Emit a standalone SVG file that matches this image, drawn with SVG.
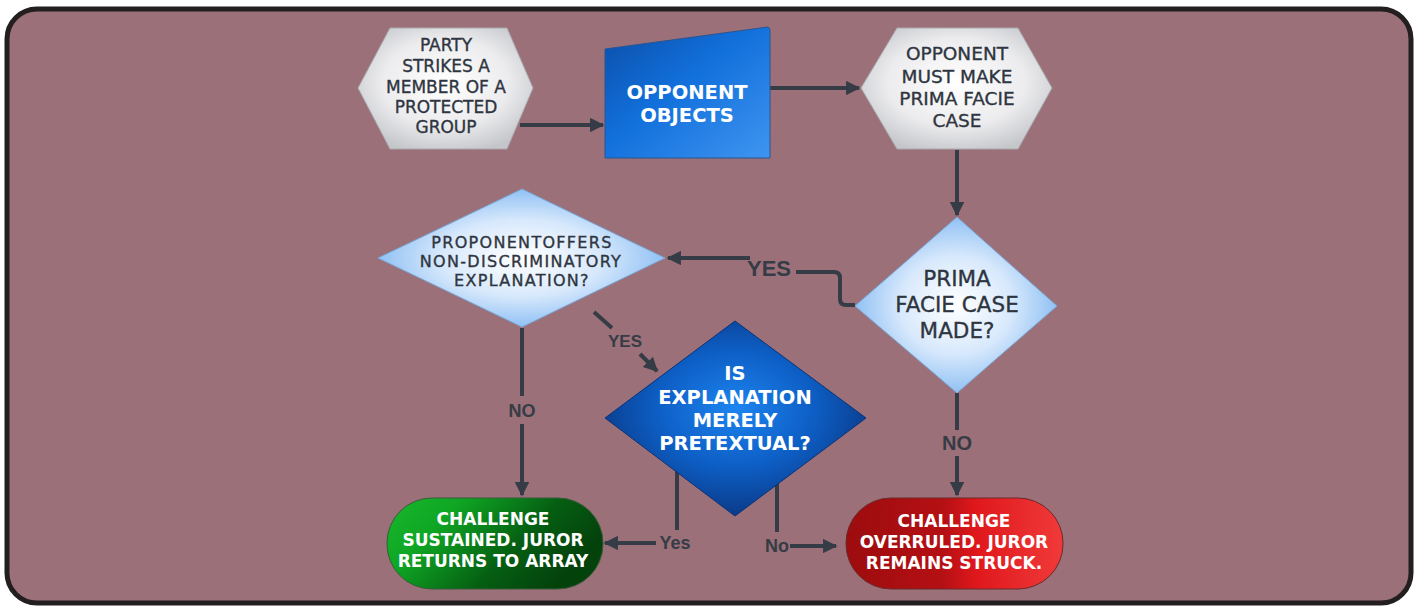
<svg xmlns="http://www.w3.org/2000/svg" width="1418" height="610" viewBox="0 0 1418 610">
<defs>
<radialGradient id="gHex" cx="50%" cy="45%" r="60%">
<stop offset="0" stop-color="#ffffff"/><stop offset="0.6" stop-color="#ececee"/><stop offset="1" stop-color="#c4c6ca"/>
</radialGradient>
<linearGradient id="gObj" x1="0" y1="0" x2="1" y2="1">
<stop offset="0" stop-color="#0b4ea8"/><stop offset="0.45" stop-color="#1270dc"/><stop offset="1" stop-color="#3f95f0"/>
</linearGradient>
<radialGradient id="gLight" cx="50%" cy="50%" r="55%">
<stop offset="0" stop-color="#ffffff"/><stop offset="0.5" stop-color="#d8e9fc"/><stop offset="1" stop-color="#80b8f2"/>
</radialGradient>
<radialGradient id="gDark" cx="50%" cy="45%" r="55%">
<stop offset="0" stop-color="#1d84f0"/><stop offset="0.55" stop-color="#0d5ec4"/><stop offset="1" stop-color="#0a3a88"/>
</radialGradient>
<linearGradient id="gGreen" x1="0" y1="0" x2="1" y2="0.4">
<stop offset="0" stop-color="#18b82c"/><stop offset="0.3" stop-color="#0fa624"/><stop offset="0.7" stop-color="#055e12"/><stop offset="1" stop-color="#04420c"/>
</linearGradient>
<linearGradient id="gRed" x1="0" y1="0" x2="1" y2="0">
<stop offset="0" stop-color="#9c0c0e"/><stop offset="0.45" stop-color="#b51014"/><stop offset="0.6" stop-color="#e0181c"/><stop offset="1" stop-color="#f03a3a"/>
</linearGradient>
<marker id="arr" viewBox="0 0 10 10" refX="9" refY="5" markerWidth="4" markerHeight="3.6" orient="auto" markerUnits="strokeWidth">
<path d="M0,0 L10,5 L0,10 z" fill="#363c46"/>
</marker>
<style>
.conn{fill:none;stroke:#363c46;stroke-width:4;stroke-linejoin:round}
.lbl{font-family:"Liberation Sans",Arial,sans-serif;font-weight:bold;fill:#363c46;text-anchor:middle}
.dk{font-family:"DejaVu Sans","Liberation Sans",sans-serif;fill:#2f3540;text-anchor:middle;stroke:#2f3540;stroke-width:0.35}
.wt{font-family:"DejaVu Sans","Liberation Sans",sans-serif;font-weight:bold;fill:#ffffff;text-anchor:middle}
.hex{fill:url(#gHex);stroke:#a8aaae;stroke-width:1}
</style>
</defs>
<rect x="7" y="9" width="1404" height="594" rx="30" ry="30" fill="#9b7078" stroke="#231f20" stroke-width="5"/>

<g id="connectors">
<path class="conn" d="M520,125 L603,125" marker-end="url(#arr)"/>
<path class="conn" d="M770,88 L859,88" marker-end="url(#arr)"/>
<path class="conn" d="M957,150 L957,215" marker-end="url(#arr)"/>
<path class="conn" d="M855,305 L846,305 Q840,305 840,299 L840,278 Q840,272 834,272 L796,272"/>
<path class="conn" d="M750,258 L668,258" marker-end="url(#arr)"/>
<path class="conn" d="M522,328 L522,396"/>
<path class="conn" d="M522,424 L522,495" marker-end="url(#arr)"/>
<path class="conn" d="M594,312 L612,328"/>
<path class="conn" d="M640,354 L657,371" marker-end="url(#arr)"/>
<path class="conn" d="M957,393 L957,430"/>
<path class="conn" d="M957,456 L957,495" marker-end="url(#arr)"/>
<path class="conn" d="M677,470 L677,530"/>
<path class="conn" d="M656,543 L605,543" marker-end="url(#arr)"/>
<path class="conn" d="M777,470 L777,532"/>
<path class="conn" d="M790,546 L836,546" marker-end="url(#arr)"/>
<text class="lbl" x="769" y="276" font-size="22">YES</text>
<text class="lbl" x="625" y="347" font-size="17">YES</text>
<text class="lbl" x="522" y="417" font-size="18">NO</text>
<text class="lbl" x="957" y="450" font-size="20">NO</text>
<text class="lbl" x="675" y="549" font-size="18">Yes</text>
<text class="lbl" x="777" y="552" font-size="18">No</text>
</g>

<g id="n1">
<polygon class="hex" points="390,28 507,28 533,88 507,149 390,149 358,88"/>
<text class="dk" font-size="17">
<tspan x="446" y="51">PARTY</tspan><tspan x="446" y="72">STRIKES A</tspan><tspan x="446" y="93">MEMBER OF A</tspan><tspan x="446" y="113">PROTECTED</tspan><tspan x="446" y="133">GROUP</tspan>
</text>
</g>

<g id="n2">
<polygon points="605,49 768,27 770,29 770,158 605,158" fill="url(#gObj)" stroke="#2a5590" stroke-width="1"/>
<text class="wt" font-size="19.5">
<tspan x="687" y="99">OPPONENT</tspan><tspan x="687" y="122">OBJECTS</tspan>
</text>
</g>

<g id="n3">
<polygon class="hex" points="897,28 1018,28 1052,88 1018,149 897,149 861,88"/>
<text class="dk" font-size="18.5">
<tspan x="957" y="60">OPPONENT</tspan><tspan x="957" y="83">MUST MAKE</tspan><tspan x="957" y="105">PRIMA FACIE</tspan><tspan x="957" y="127">CASE</tspan>
</text>
</g>

<g id="n4">
<polygon points="957,217 1057,306 957,393 855,306" fill="url(#gLight)" stroke="#7aa8d8" stroke-width="1"/>
<text class="dk" font-size="21.5">
<tspan x="957" y="286">PRIMA</tspan><tspan x="957" y="312">FACIE CASE</tspan><tspan x="957" y="338">MADE?</tspan>
</text>
</g>

<g id="n5">
<polygon points="522,189 665,258 522,327 378,258" fill="url(#gLight)" stroke="#7aa8d8" stroke-width="1"/>
<text class="dk" font-size="16" letter-spacing="1.3">
<tspan x="522" y="248">PROPONENTOFFERS</tspan><tspan x="521" y="267">NON-DISCRIMINATORY</tspan><tspan x="522" y="286">EXPLANATION?</tspan>
</text>
</g>

<g id="n6">
<polygon points="735,321 866,418 735,516 605,418" fill="url(#gDark)" stroke="#0a3478" stroke-width="1"/>
<text class="wt" font-size="19.5">
<tspan x="735" y="380">IS</tspan><tspan x="735" y="404">EXPLANATION</tspan><tspan x="735" y="427">MERELY</tspan><tspan x="735" y="450">PRETEXTUAL?</tspan>
</text>
</g>

<g id="n7">
<rect x="387" y="498" width="216" height="91" rx="45" ry="45" fill="url(#gGreen)" stroke="#3a5a3a" stroke-width="1"/>
<text class="wt" font-size="17">
<tspan x="493" y="525">CHALLENGE</tspan><tspan x="493" y="546">SUSTAINED. JUROR</tspan><tspan x="493" y="567">RETURNS TO ARRAY</tspan>
</text>
</g>

<g id="n8">
<rect x="846" y="498" width="217" height="91" rx="45" ry="45" fill="url(#gRed)" stroke="#6a2a2a" stroke-width="1"/>
<text class="wt" font-size="17">
<tspan x="954" y="527">CHALLENGE</tspan><tspan x="954" y="548">OVERRULED. JUROR</tspan><tspan x="954" y="569">REMAINS STRUCK.</tspan>
</text>
</g>
</svg>
